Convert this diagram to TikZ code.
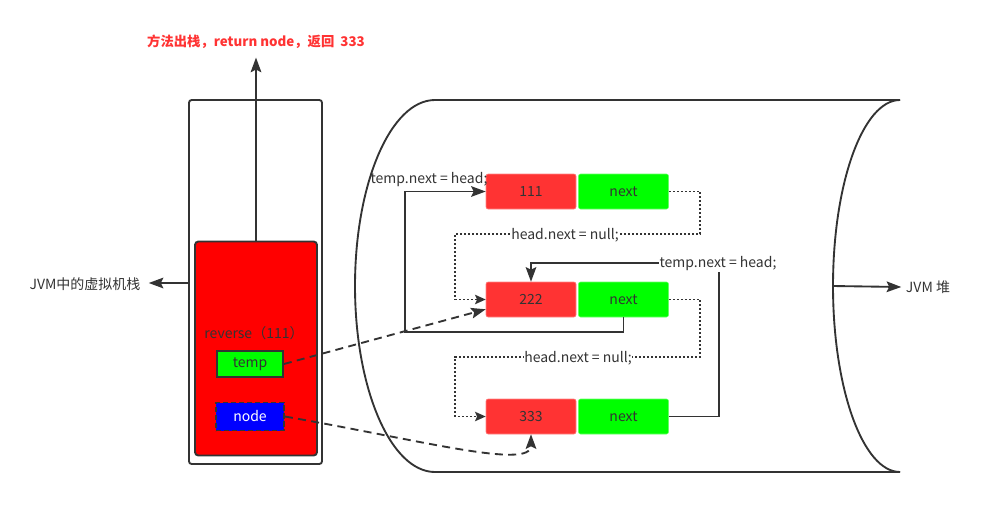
\documentclass[tikz,border=0pt]{standalone}
\usepackage{fontspec}
\setmainfont{Noto Sans CJK SC}
\usetikzlibrary{arrows.meta,positioning}
\definecolor{txt}{HTML}{333333}
\definecolor{valred}{HTML}{FF3333}
\definecolor{nextgreen}{HTML}{00FF00}
\definecolor{titlered}{HTML}{FF3333}
\tikzset{
	arr/.style={draw=txt, line width=1.4pt, -{Stealth[length=11pt,width=8pt,inset=2pt]}},
	link/.style={draw=txt, line width=1.4pt, -{Stealth[length=11pt,width=8pt,inset=2pt]}},
	dotline/.style={draw=txt, line width=1.4pt, dash pattern=on 1.5pt off 1.5pt, -{Stealth[length=8pt,width=7pt,inset=1.5pt]}},
	dashline/.style={draw=txt, line width=1.4pt, dash pattern=on 6pt off 4pt, -{Stealth[length=11pt,width=8pt,inset=2pt]}},
	valbox/.style={rectangle, rounded corners=1.5pt, fill=valred, draw=valred!60!white, text=txt,
		minimum width=67.5pt, minimum height=26.25pt, font=\fontsize{10.5}{12}\selectfont},
	nextbox/.style={valbox, fill=nextgreen, draw=nextgreen!60!white},
	lbl/.style={fill=white, inner sep=0.5pt, text=txt, font=\fontsize{10.5}{12}\selectfont},
}
\begin{document}
\begin{tikzpicture}[x=0.75pt, y=-0.75pt]
	\useasboundingbox (0,0) rectangle (988,508);
	% heap
	\draw[txt, line width=1.4pt] (900,100) -- (435,100)
		.. controls (390.8,100) and (355,183.3) .. (355,286)
		.. controls (355,388.7) and (390.8,472) .. (435,472) -- (900,472);
	\draw[txt, line width=1.4pt] (900,100)
		.. controls (863,100) and (833,183.3) .. (833,286)
		.. controls (833,388.7) and (863,472) .. (900,472);
	\coordinate (heapedge) at (833,286);
	\node [text=txt, font=\fontsize{10.5}{12}\selectfont] (jvmh) at (928,287) {JVM 堆};
	\draw [arr] (heapedge) -- (jvmh.west);

	% stack
	\node [draw=txt, line width=1.4pt, rounded corners=2pt, minimum width=99.75pt, minimum height=273pt] (stack) at (255.5,282) {};
	\node [draw=txt, line width=1.4pt, fill=red, rounded corners=2.5pt, minimum width=91.5pt, minimum height=160.5pt] (frame) at (256,348.5) {};
	\node [text=txt, font=\fontsize{10.5}{12}\selectfont] (rev) at (254,333) {reverse（111）};
	\node [draw=txt, line width=1.4pt, fill=nextgreen, text=txt, minimum width=49.5pt, minimum height=19.5pt, font=\fontsize{10.5}{12}\selectfont] (temp) at (250,364) {temp};
	\node [draw=txt, line width=1.4pt, dash pattern=on 4pt off 2pt, fill=blue, text=white, minimum width=51pt, minimum height=21pt, font=\fontsize{10.5}{12}\selectfont] (nd) at (250,416.5) {node};
	\node [text=txt, inner xsep=6pt, font=\fontsize{10.5}{12}\selectfont] (jvms) at (85,284) {JVM中的虚拟机栈};
	\draw [arr] (stack.west |- 0,283) -- (jvms.east |- 0,283);
	\node [text=titlered, font=\bfseries\fontsize{10}{12}\selectfont] (title) at (256,42) {方法出栈，return node，返回~~333};
	\draw [arr] (frame.north) -- ([yshift=-3pt]title.south);

	% list
	\node [valbox] (v1) at (531,191.5) {111};
	\node [nextbox] (n1) at (623.5,191.5) {next};
	\node [valbox] (v2) at (531,299.5) {222};
	\node [nextbox] (n2) at (623.5,299.5) {next};
	\node [valbox] (v3) at (531,416.5) {333};
	\node [nextbox] (n3) at (623.5,416.5) {next};

	\draw [dotline] (n1.east) -| (700,234) -| (455,299.5) -- (v2.west);
	\node [lbl] (null1) at (565,235) {head.next = null;};
	\draw [dotline] (n2.east) -| (700,357) -| (455,416.5) -- (v3.west);
	\node [lbl] (null2) at (578,358) {head.next = null;};

	\draw [link] (n2.south) |- (405,332) |- (v1.west);
	\node [lbl, fill=none] (head1) at (429,180) {temp.next = head;};
	\draw [link] (n3.east) -| (719,263) -| (v2.north);
	\node [lbl] (head2) at (718,264) {temp.next = head;};

	\draw [dashline] (temp.east) -- ([yshift=6pt]v2.south west);
	\draw [dashline] (nd.east) .. controls (420,440) and (531,470) .. (v3.south);
\end{tikzpicture}
\end{document}
